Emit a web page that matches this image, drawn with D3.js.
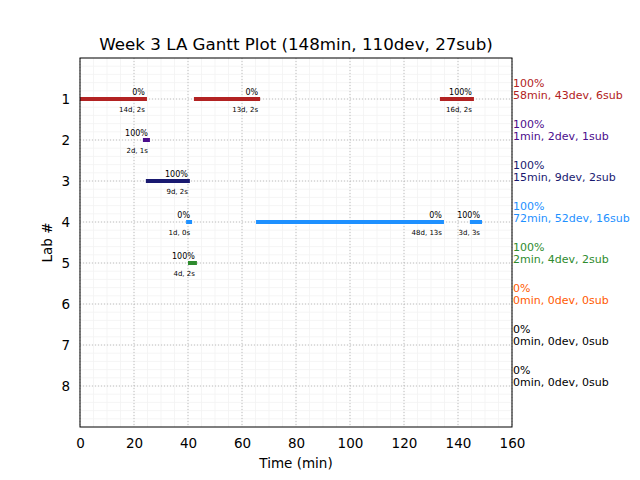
<!DOCTYPE html>
<html><head><meta charset="utf-8">
<script src="https://cdn.jsdelivr.net/npm/d3@7"></script>
<style>body{margin:0;background:#fff}svg{font-family:"DejaVu Sans",sans-serif}</style>
</head><body>
<svg id="c" width="640" height="480"></svg>
<script>
const title = "Week 3 LA Gantt Plot (148min, 110dev, 27sub)";
const labs = [1,2,3,4,5,6,7,8];
const labColors = ["#b22222","#4b0d8c","#191970","#1e90ff","#2e8b2e","#ff5a00","#000000","#000000"];
const labSummary = [
  ["100%","58min, 43dev, 6sub"],
  ["100%","1min, 2dev, 1sub"],
  ["100%","15min, 9dev, 2sub"],
  ["100%","72min, 52dev, 16sub"],
  ["100%","2min, 4dev, 2sub"],
  ["0%","0min, 0dev, 0sub"],
  ["0%","0min, 0dev, 0sub"],
  ["0%","0min, 0dev, 0sub"]
];
// segments: lab, start, end, pct, info
const segLab   = [1, 1, 1, 2, 3, 4, 4, 4, 5];
const segStart = [0, 42.2, 133.3, 23.3, 24.4, 39.3, 65.2, 144.4, 40.0];
const segEnd   = [24.8, 66.7, 145.9, 25.9, 40.7, 41.5, 134.8, 148.9, 43.3];
const segPct   = ["0%","0%","100%","100%","100%","0%","0%","100%","100%"];
const segInfo  = ["14d, 2s","13d, 2s","16d, 2s","2d, 1s","9d, 2s","1d, 0s","48d, 13s","3d, 3s","4d, 2s"];
const xTicks = [0,20,40,60,80,100,120,140,160];

const svg = d3.select("#c");
const L=80, R=512, T=58, B=427;
const x = d3.scaleLinear().domain([0,160]).range([L,R]);
const y = d3.scaleLinear().domain([0,9]).range([T,B]);

// minor grid
const g = svg.append("g");
g.selectAll("line.mx").data(d3.range(0,161,5)).join("line")
  .attr("x1",d=>x(d)).attr("x2",d=>x(d)).attr("y1",T).attr("y2",B)
  .attr("stroke","#f3f3f3").attr("stroke-width",0.8);
g.selectAll("line.my").data(d3.range(0,45).map(i=>i*0.2)).join("line")
  .attr("y1",d=>y(d)).attr("y2",d=>y(d)).attr("x1",L).attr("x2",R)
  .attr("stroke","#f3f3f3").attr("stroke-width",0.8);
// major grid
g.selectAll("line.Mx").data(xTicks).join("line")
  .attr("x1",d=>x(d)).attr("x2",d=>x(d)).attr("y1",T).attr("y2",B)
  .attr("stroke","#b0b0b0").attr("stroke-width",0.8).attr("stroke-dasharray","1,2");
g.selectAll("line.My").data(labs).join("line")
  .attr("y1",d=>y(d)).attr("y2",d=>y(d)).attr("x1",L).attr("x2",R)
  .attr("stroke","#b0b0b0").attr("stroke-width",0.8).attr("stroke-dasharray","1,2");

// bars
const segs = segLab.map((l,i)=>({lab:l,s:segStart[i],e:segEnd[i],p:segPct[i],info:segInfo[i]}));
svg.append("g").selectAll("line").data(segs).join("line")
  .attr("x1",d=>x(d.s)).attr("x2",d=>x(d.e)).attr("y1",d=>y(d.lab)).attr("y2",d=>y(d.lab))
  .attr("stroke",d=>labColors[d.lab-1]).attr("stroke-width",4);
svg.append("g").selectAll("text").data(segs).join("text")
  .attr("x",d=>x(d.e)-2).attr("y",d=>y(d.lab)-4).attr("text-anchor","end")
  .attr("font-size",8).attr("fill","#000").text(d=>d.p);
svg.append("g").selectAll("text").data(segs).join("text")
  .attr("x",d=>x(d.e)-2).attr("y",d=>y(d.lab)+12.5).attr("text-anchor","end")
  .attr("font-size",7).attr("fill","#000").text(d=>d.info);

// axes
const xa = svg.append("g").attr("transform",`translate(0,${B})`)
  .call(d3.axisBottom(x).tickValues(xTicks).tickSize(0).tickPadding(11).tickFormat(d3.format("d")));
xa.select(".domain").remove();
xa.selectAll("text").attr("font-size",13.5).attr("font-family","DejaVu Sans").attr("fill","#000");
const ya = svg.append("g").attr("transform",`translate(${L},0)`)
  .call(d3.axisLeft(y).tickValues(labs).tickSize(0).tickPadding(10).tickFormat(d3.format("d")));
ya.select(".domain").remove();
ya.selectAll("text").attr("font-size",13.5).attr("font-family","DejaVu Sans").attr("fill","#000");

svg.append("rect").attr("x",L).attr("y",T).attr("width",R-L).attr("height",B-T)
  .attr("fill","none").attr("stroke","#000").attr("stroke-width",1);

// right summaries
const rs = svg.append("g").selectAll("text").data(labs).join("text")
  .attr("x",R+1).attr("font-size",11).attr("fill",(d,i)=>labColors[i]);
rs.append("tspan").attr("x",R+1).attr("y",d=>y(d)-12.5).text((d,i)=>labSummary[i][0]);
rs.append("tspan").attr("x",R+1).attr("y",d=>y(d)-0.5).text((d,i)=>labSummary[i][1]);

// title & labels
svg.append("text").attr("x",(L+R)/2).attr("y",50).attr("text-anchor","middle")
  .attr("font-size",16.7).text(title);
svg.append("text").attr("x",(L+R)/2).attr("y",468).attr("text-anchor","middle")
  .attr("font-size",13.5).text("Time (min)");
svg.append("text").attr("transform",`translate(52,${(T+B)/2}) rotate(-90)`).attr("text-anchor","middle")
  .attr("font-size",13.5).text("Lab #");
</script>
</body></html>
